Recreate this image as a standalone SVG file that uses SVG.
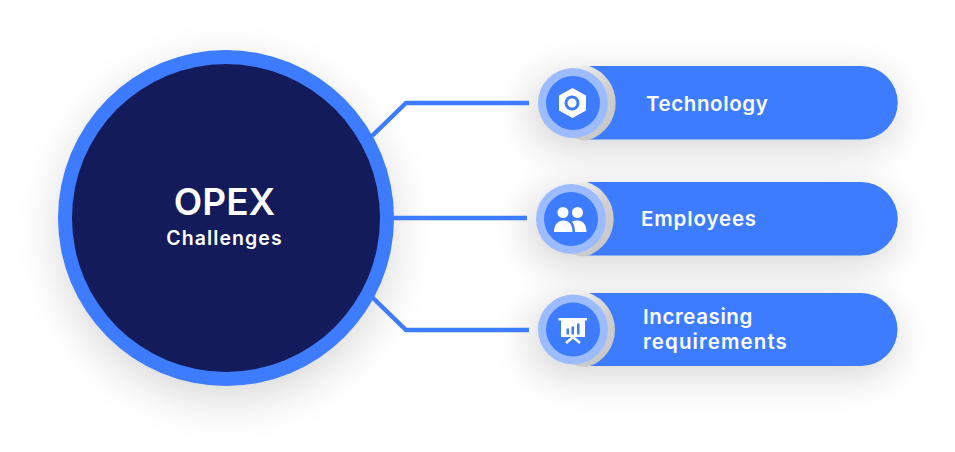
<svg xmlns="http://www.w3.org/2000/svg" width="955" height="452" viewBox="0 0 955 452">
<defs>
<filter id="soft" x="-30%" y="-30%" width="160%" height="170%"><feGaussianBlur stdDeviation="24"/></filter>
<filter id="soft2" x="-30%" y="-90%" width="160%" height="300%"><feGaussianBlur stdDeviation="20"/></filter>
<linearGradient id="cres" x1="0" y1="0" x2="0.6" y2="1"><stop offset="0" stop-color="#f2f2f2"/><stop offset="0.6" stop-color="#cfcfcf"/><stop offset="1" stop-color="#c8c8c8"/></linearGradient>
</defs>
<style>
.link{fill:none;stroke:#3d7bff;stroke-width:4.500}
.pill{fill:#3d7bff}
.crescent{fill:url(#cres)}
.ring{fill:#9dbcff}
.core{fill:#3d7bff}
.ic{fill:#fff}
.lab{font-family:"Inter","Liberation Sans",sans-serif;font-weight:600;font-size:20.500px;fill:#fff;letter-spacing:.6px}
.shadow{fill:#000;opacity:.17}
</style>
<rect width="955" height="452" fill="#fff"/>
<circle class="shadow" cx="226" cy="232" r="165" filter="url(#soft)"/>
<rect class="shadow" x="530" y="76" width="366" height="72" rx="36" filter="url(#soft2)"/>
<rect class="shadow" x="528" y="192" width="368" height="72" rx="36" filter="url(#soft2)"/>
<rect class="shadow" x="530" y="303" width="366" height="72" rx="36" filter="url(#soft2)"/>
<g id="connectors">
<path class="link" d="M372 136L406 103H529"/>
<path class="link" d="M392 218H527"/>
<path class="link" d="M372 297L406 330H529"/>
</g>
<g id="opex">
<circle cx="226" cy="218" r="168" fill="#3d7bff"/>
<circle cx="226" cy="218" r="154" fill="#141b5a"/>
<text x="224.500" y="215" text-anchor="middle" font-family="Inter,'Liberation Sans',sans-serif" font-weight="600" font-size="37" fill="#fff">OPEX</text>
<text x="224.500" y="245" text-anchor="middle" font-family="Inter,'Liberation Sans',sans-serif" font-weight="600" font-size="19.500" letter-spacing="1.100" fill="#fff">Challenges</text>
</g>
<g id="technology">
<path class="pill" d="M589 66H861A36.500 36.500 0 0 1 861 139.500H589Z"/>
<path class="crescent" d="M573 68C580 66 585 65.500 589 66A39 39 0 0 1 589 140C585 141 580 140 573 138Z"/>
<circle class="ring" cx="573" cy="103" r="35"/>
<circle class="core" cx="573" cy="103" r="27"/>
<path class="ic" d="M572.500 88L586 95.500V110.500L572.500 118L559 110.500V95.500Z"/>
<circle cx="572" cy="103" r="7.500" fill="#3d7bff"/>
<circle class="ic" cx="572" cy="103" r="4.500"/>
<text class="lab" x="646" y="111">Technology</text>
</g>
<g id="employees">
<path class="pill" d="M587 182H861A36.500 36.500 0 0 1 861 255.500H587Z"/>
<path class="crescent" d="M571 184C578 182 583 181.500 587 182A39 39 0 0 1 587 256C583 257 578 256 571 254Z"/>
<circle class="ring" cx="571" cy="219" r="35"/>
<circle class="core" cx="571" cy="219" r="27"/>
<circle class="ic" cx="563" cy="212.500" r="5.500"/>
<circle class="ic" cx="577.500" cy="212.500" r="5.500"/>
<path class="ic" d="M554 232C554 224.500 558 220.500 563.500 220.500C569 220.500 572.500 224.500 572.500 232Z"/>
<path class="ic" d="M575 232C575 228 574 224 572 221.500C573.500 220.700 575.500 220.500 577.500 220.500C583 220.500 586.500 224.500 586.500 232Z"/>
<text class="lab" x="641" y="226" style="letter-spacing:.85px">Employees</text>
</g>
<g id="requirements">
<path class="pill" d="M589 293H861A36.500 36.500 0 0 1 861 366H589Z"/>
<path class="crescent" d="M573 295C580 293 585 292.500 589 293A39 39 0 0 1 589 366.500C585 367.500 580 366.500 573 364.500Z"/>
<circle class="ring" cx="573" cy="329.500" r="35"/>
<circle class="core" cx="573" cy="329.500" r="27"/>
<path class="ic" d="M558.500 318H587V320.500H585V337H561V320.500H558.500Z"/>
<path d="M566.500 328.500h2.500v6h-2.500zM571.500 326.500h2.500v8h-2.500zM577 323.500h2.500v11h-2.500z" fill="#3d7bff"/>
<path d="M573 337L566 343M573 337L580 343" stroke="#fff" stroke-width="2.500" fill="none"/>
<text class="lab" x="643" y="324">Increasing</text>
<text class="lab" x="643" y="349" style="letter-spacing:1.100px">requirements</text>
</g>
</svg>
